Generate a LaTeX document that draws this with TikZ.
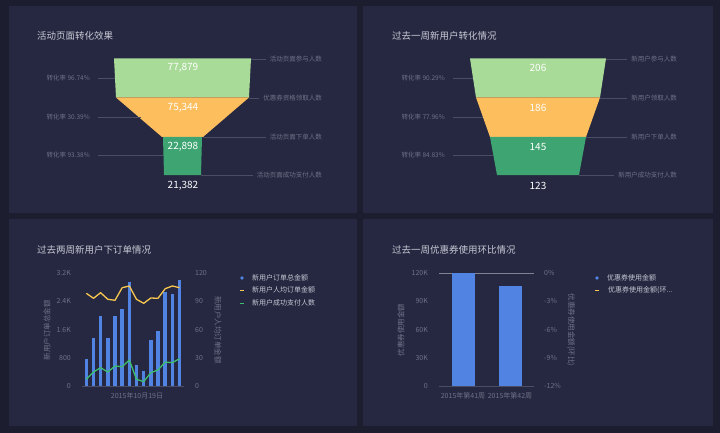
\documentclass[tikz,border=0pt]{standalone}
\usepackage{fontspec}
\setmainfont{Noto Sans CJK SC}
\definecolor{bg}{HTML}{1C1D2E}
\definecolor{panel}{HTML}{252840}
\definecolor{lgreen}{HTML}{A8DB98}
\definecolor{orng}{HTML}{FDBE5E}
\definecolor{dgreen}{HTML}{3EA572}
\definecolor{bblue}{HTML}{5183E2}
\definecolor{yel}{HTML}{F9C74F}
\definecolor{grn}{HTML}{3DBE6E}
\definecolor{lbl}{HTML}{6E7187}
\definecolor{ttl}{HTML}{C8CAD6}
\definecolor{ln}{HTML}{4A4D63}
\tikzset{
 ttlstyle/.style={text=ttl,font=\fontsize{9.5}{11}\selectfont,anchor=west,inner sep=0},
 lblstyle/.style={text=lbl,font=\fontsize{6.5}{7}\selectfont,inner sep=0},
 tickstyle/.style={text=lbl,font=\fontsize{7}{8}\selectfont,inner sep=0},
 valstyle/.style={text=white,font=\fontsize{10}{11}\selectfont,inner sep=0},
 legstyle/.style={text=ttl,font=\fontsize{7}{8}\selectfont,anchor=west,inner sep=0},
 guide/.style={draw=ln,line width=0.6pt},
}
\begin{document}
\begin{tikzpicture}[x=1pt,y=-1pt]
\fill[bg] (0,0) rectangle (720,433);
\useasboundingbox (0,0) rectangle (720,433);
\foreach \x/\y/\X/\Y in {9/6/357/213,363/6/713/213,9/219/357/426,363/219/713/426}
  \fill[panel] (\x,\y) rectangle (\X,\Y);
% Panel 1
\node[ttlstyle] (t1) at (37,36) {活动页面转化效果};
\fill[lgreen] (114,58.5) -- (251,58.5) -- (249,97.5) -- (116,97.5) -- cycle;
\fill[orng] (116,97.5) -- (249,97.5) -- (203,137) -- (162,137) -- cycle;
\fill[dgreen] (163,137) -- (202,137) -- (201,175) -- (164,175) -- cycle;
\node[valstyle] (v11) at (183,68) {77,879};
\node[valstyle] (v12) at (183,108) {75,344};
\node[valstyle] (v13) at (183,147) {22,898};
\node[valstyle] (v14) at (183,186) {21,382};
\foreach \n/\y/\ex/\t in {a/59/251/活动页面参与人数,b/98/249/优惠券资格领取人数,c/137/203/活动页面下单人数,d/175/201/活动页面成功支付人数}{
  \node[lblstyle,anchor=east] (r1\n) at (322,\y) {\t};
  \coordinate (e1\n) at (\ex,\y);
  \draw[guide] (e1\n) -- ([xshift=-4pt]r1\n.west);
}
\foreach \n/\y/\ex/\t in {a/78/115/96.74,b/117/141/30.39,c/155/163/93.38}{
  \node[lblstyle,anchor=east] (l1\n) at (90,\y) {转化率 \t\%};
  \coordinate (f1\n) at (\ex,\y);
  \draw[guide] ([xshift=8pt]l1\n.east) -- (f1\n);
}
% Panel 2
\node[ttlstyle] (t2) at (392,36) {过去一周新用户转化情况};
\fill[lgreen] (470,58.5) -- (606,58.5) -- (600,97.5) -- (476,97.5) -- cycle;
\fill[orng] (476,97.5) -- (600,97.5) -- (586,137) -- (490,137) -- cycle;
\fill[dgreen] (490,137) -- (586,137) -- (579,175) -- (497,175) -- cycle;
\node[valstyle] (v21) at (538,68) {206};
\node[valstyle] (v22) at (538,108) {186};
\node[valstyle] (v23) at (538,147) {145};
\node[valstyle] (v24) at (538,186) {123};
\foreach \n/\y/\ex/\t in {a/59/606/新用户参与人数,b/98/600/新用户领取人数,c/137/586/新用户下单人数,d/175/579/新用户成功支付人数}{
  \node[lblstyle,anchor=east] (r2\n) at (677,\y) {\t};
  \coordinate (e2\n) at (\ex,\y);
  \draw[guide] (e2\n) -- ([xshift=-4pt]r2\n.west);
}
\foreach \n/\y/\ex/\t in {a/78/473/90.29,b/117/483/77.96,c/155/493/84.83}{
  \node[lblstyle,anchor=east] (l2\n) at (445,\y) {转化率 \t\%};
  \coordinate (f2\n) at (\ex,\y);
  \draw[guide] ([xshift=8pt]l2\n.east) -- (f2\n);
}
% Panel 3
\node[ttlstyle] (t3) at (37,250) {过去两周新用户下订单情况};
\foreach \v/\y in {3.2K/273,2.4K/301,1.6K/330,800/358,0/386}
  \node[tickstyle,anchor=east] at (71,\y) {\v};
\foreach \v/\y in {120/273,90/301,60/330,30/358,0/386}
  \node[tickstyle,anchor=west] at (195,\y) {\v};
\coordinate (ax1) at (82,386); \coordinate (ax2) at (184,386);
\draw[ln,line width=0.6pt] (ax1) -- (ax2);
\foreach \z [count=\i from 0] in {430,365,300,365,300,280,198,446,466,373,346,228,234,191}{
  \pgfmathsetmacro\bx{86.3+7.17*\i}
  \pgfmathsetmacro\by{216+\z/3}
  \fill[bblue] (\bx-1.7,\by) rectangle (\bx+1.7,386);
}
\draw[yel,line width=1.3pt,line join=round] plot coordinates {(86.3,293.3)(93.5,298.3)(100.6,292.7)(107.8,299.3)(115,300.3)(122.2,287.7)(129.3,286)(136.5,299.3)(143.7,303.3)(150.8,298)(158,298.3)(165.2,288.7)(172.3,286)(179.5,287.7)};
\draw[grn,line width=1.3pt,line join=round] plot coordinates {(86.3,379.3)(93.5,372)(100.6,367.7)(107.8,372)(115,366)(122.2,366.7)(129.3,360)(136.5,379.3)(143.7,381.7)(150.8,372.7)(158,370)(165.2,362)(172.3,362.7)(179.5,358.7)};
\node[tickstyle,anchor=north] (x3) at (137,392) {2015年10月19日};
\node[tickstyle,rotate=90,font=\fontsize{7.5}{8}\selectfont] (y3l) at (47,330) {新用户订单总金额};
\node[tickstyle,rotate=-90,font=\fontsize{7.5}{8}\selectfont] (y3r) at (218,330) {新用户人均订单金额};
\fill[bblue] (242,278) circle (1.8);
\fill[yel] (240,289.5) rectangle (244,290.8);
\fill[grn] (240,302.5) rectangle (244,303.8);
\node[legstyle] (g31) at (252,278) {新用户订单总金额};
\node[legstyle] (g32) at (252,290) {新用户人均订单金额};
\node[legstyle] (g33) at (252,303) {新用户成功支付人数};
% Panel 4
\node[ttlstyle] (t4) at (392,250) {过去一周优惠券使用环比情况};
\foreach \v/\y in {120K/273,90K/301,60K/330,30K/358,0/386}
  \node[tickstyle,anchor=east] at (428,\y) {\v};
\foreach \v/\y in {0\%/273,-3\%/301,-6\%/330,-9\%/358,-12\%/386}
  \node[tickstyle,anchor=west] at (544,\y) {\v};
\coordinate (g1) at (439,273); \coordinate (g2) at (534,273);
\draw[ln!70,line width=0.4pt] (g1) -- (g2);
\coordinate (bx1) at (439,386); \coordinate (bx2) at (534,386);
\draw[ln,line width=0.6pt] (bx1) -- (bx2);
\fill[bblue] (452,273) rectangle (475,386);
\fill[bblue] (499,286) rectangle (522,386);
\node[tickstyle,anchor=north] (x41) at (463,392) {2015年第41周};
\node[tickstyle,anchor=north] (x42) at (510,392) {2015年第42周};
\node[tickstyle,rotate=90,font=\fontsize{7.5}{8}\selectfont] (y4l) at (401,330) {优惠券使用金额};
\node[tickstyle,rotate=-90,font=\fontsize{7.5}{8}\selectfont] (y4r) at (571,330) {优惠券使用金额(环比)};
\fill[bblue] (597,278) circle (1.8);
\fill[yel] (595,289.5) rectangle (599,290.8);
\node[legstyle] (g41) at (607,278) {优惠券使用金额};
\node[legstyle] (g42) at (608,290) {优惠券使用金额(环...};
\end{tikzpicture}
\end{document}
